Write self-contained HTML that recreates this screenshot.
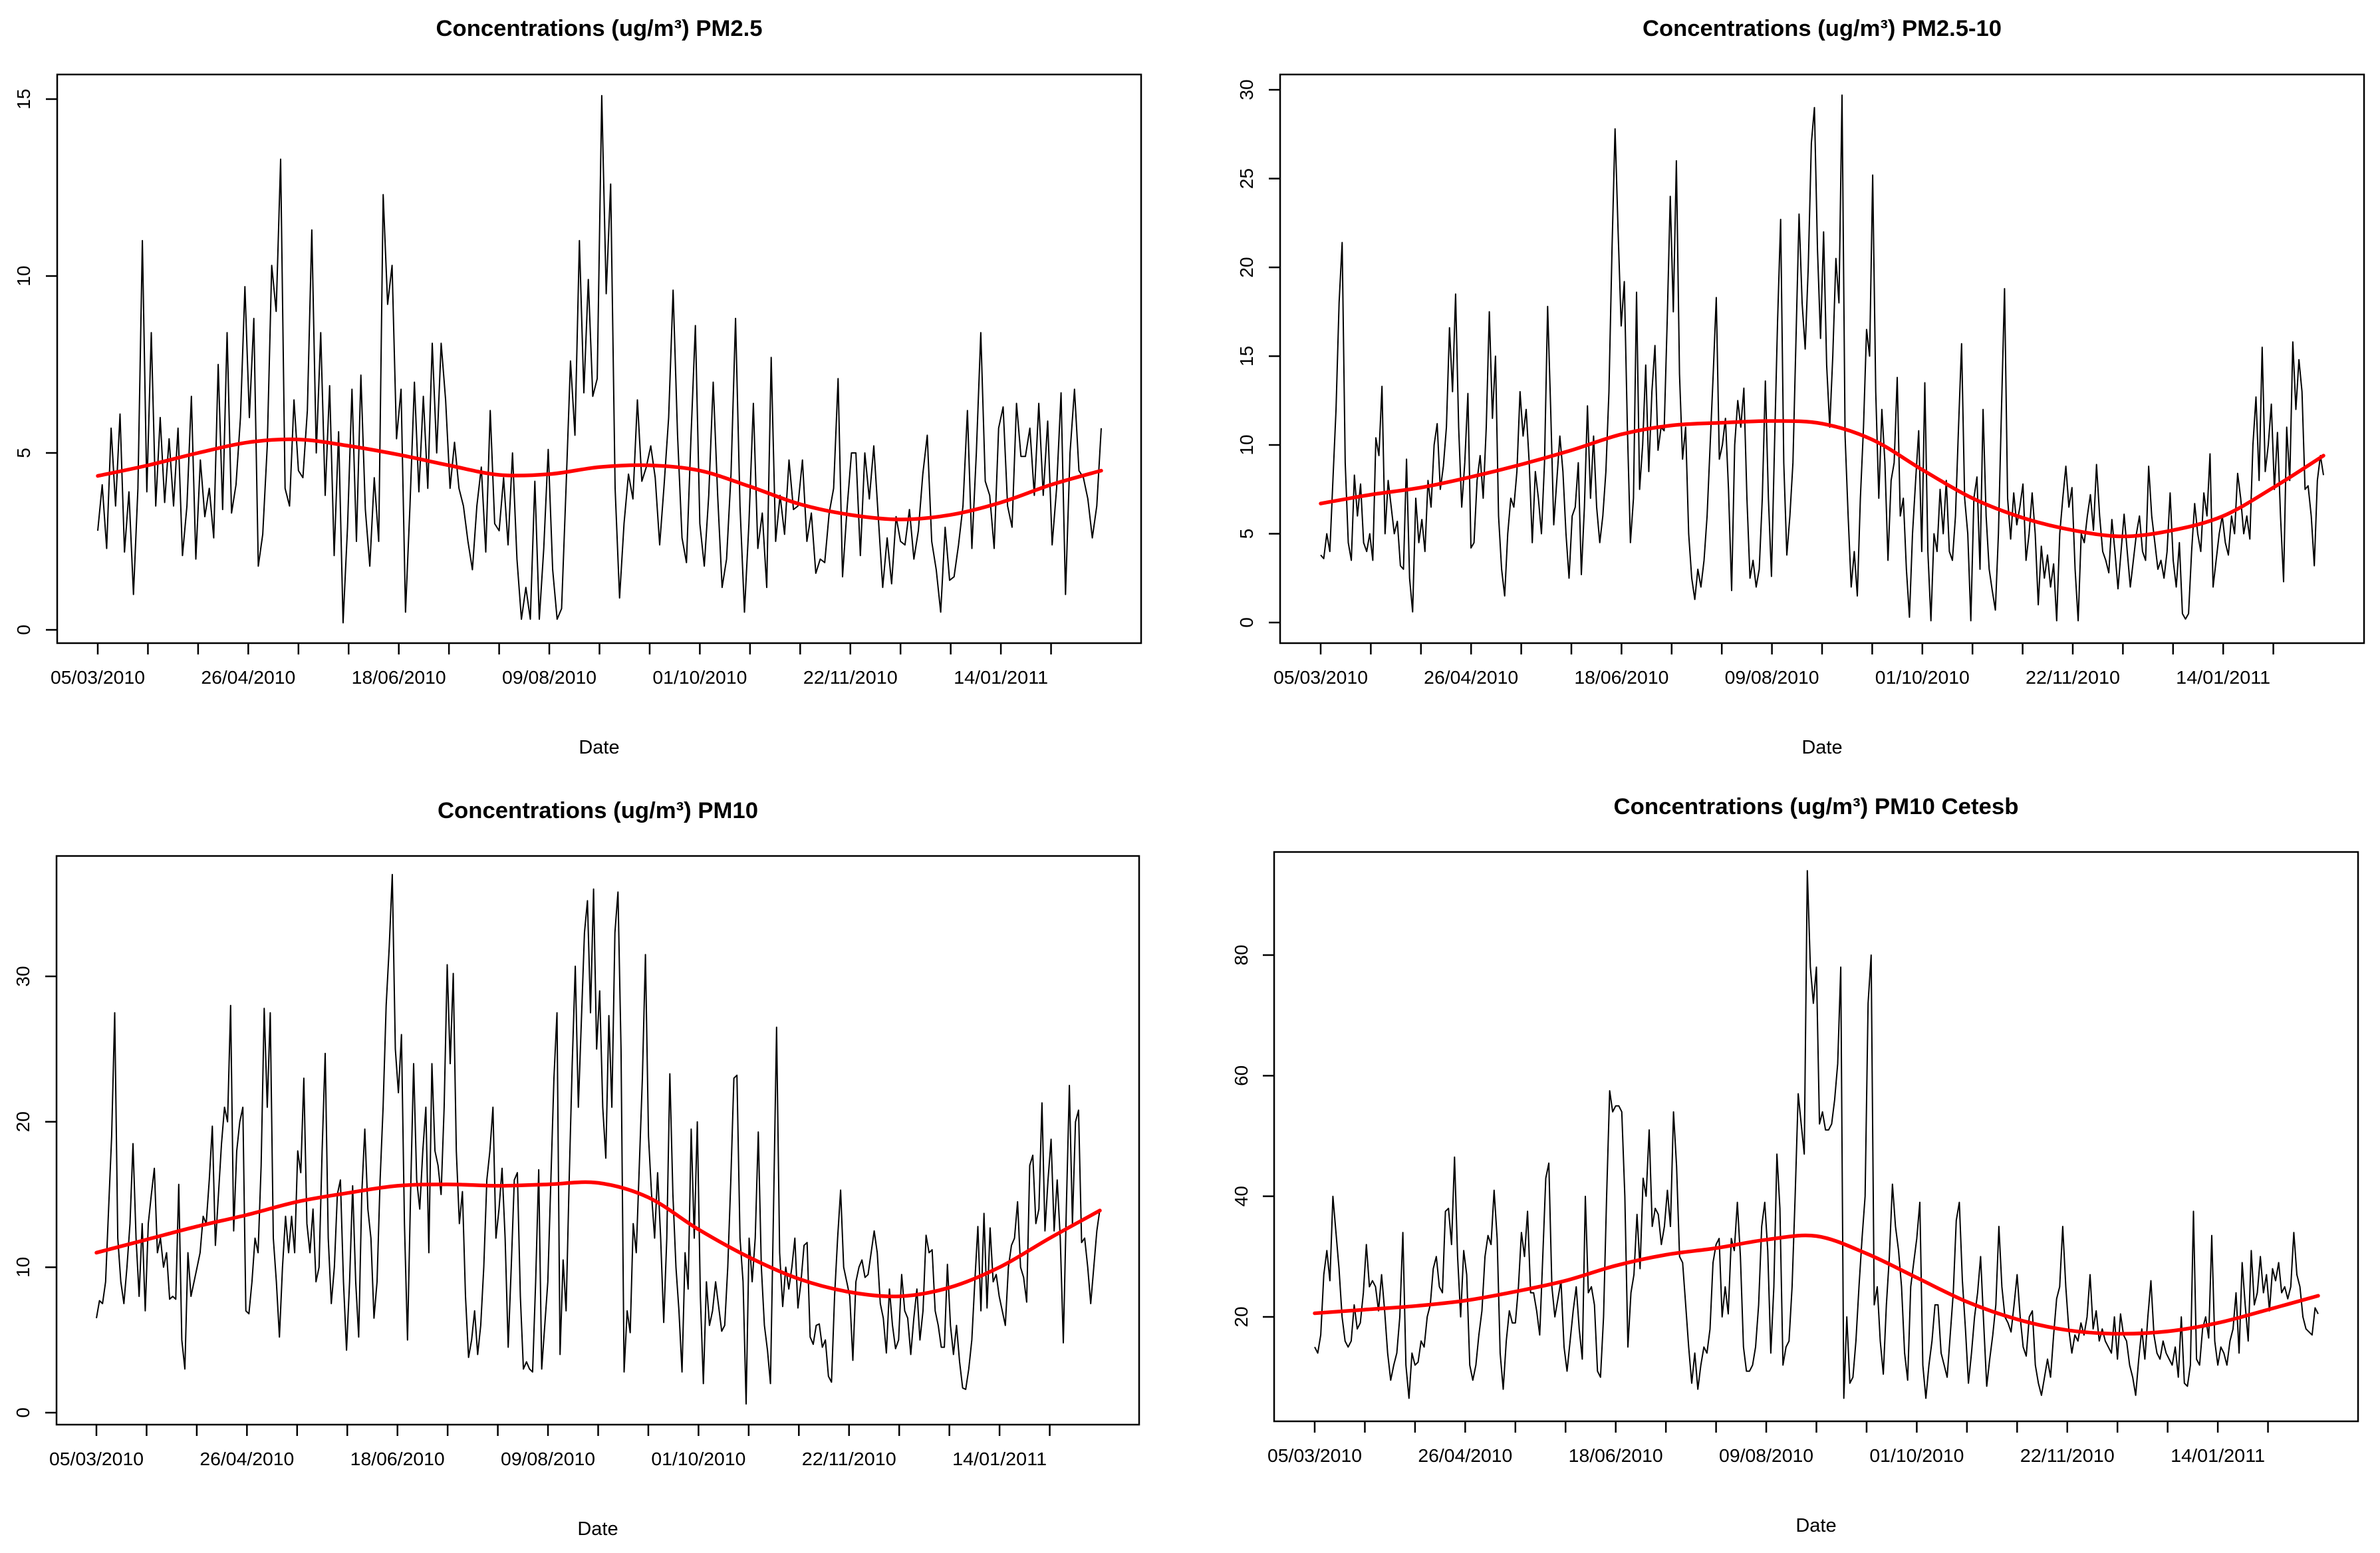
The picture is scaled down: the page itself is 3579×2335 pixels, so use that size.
<!DOCTYPE html>
<html><head><meta charset="utf-8">
<style>
html,body{margin:0;padding:0;background:#fff;}
svg{display:block;}
text{font-family:"Liberation Sans",Arial,sans-serif;fill:#000;}
</style></head>
<body>
<svg id="chart" width="3579" height="2335" viewBox="0 0 3579 2335" xmlns="http://www.w3.org/2000/svg">
<rect x="0" y="0" width="3579" height="2335" fill="#fff"/>
</svg>
<script>
// ---- shared x-axis data ----
const tickLabels = ["05/03/2010","26/04/2010","18/06/2010","09/08/2010","01/10/2010","22/11/2010","14/01/2011"];
const tickStepDays = 17.5;
const tickCount = 20;
const spanDays = 350;

// ---- PM2.5 ----
const pm25Values = [2.8,4.1,2.3,5.7,3.5,6.1,2.2,3.9,1.0,4,11,3.9,8.4,3.5,6,3.6,5.4,3.5,5.7,2.1,3.5,6.6,2,4.8,3.2,4,2.6,7.5,3.4,8.4,3.3,4.1,6,9.7,6,8.8,1.8,2.7,5.2,10.3,9,13.3,4,3.5,6.5,4.5,4.3,6.2,11.3,5,8.4,3.8,6.9,2.1,5.6,0.2,2.9,6.8,2.5,7.2,3.4,1.8,4.3,2.5,12.3,9.2,10.3,5.4,6.8,0.5,3.5,7,3.9,6.6,4,8.1,5,8.1,6.5,4,5.3,4,3.5,2.5,1.7,3.5,4.6,2.2,6.2,3,2.8,4.3,2.4,5,2,0.3,1.2,0.3,4.2,0.3,2.3,5.1,1.7,0.3,0.6,4,7.6,5.5,11,6.7,9.9,6.6,7.1,15.1,9.5,12.6,4,0.9,3,4.4,3.7,6.5,4.2,4.6,5.2,4.3,2.4,4.1,6,9.6,5.5,2.6,1.9,5.4,8.6,3,1.8,3.8,7,3.8,1.2,2,4.4,8.8,3.5,0.5,3,6.4,2.3,3.3,1.2,7.7,2.5,3.8,2.7,4.8,3.4,3.5,4.8,2.5,3.3,1.6,2,1.9,3.3,4,7.1,1.5,3.4,5,5,2.1,5,3.7,5.2,3.2,1.2,2.6,1.3,3.2,2.5,2.4,3.4,2,2.8,4.4,5.5,2.5,1.7,0.5,2.9,1.4,1.5,2.4,3.5,6.2,2.3,5,8.4,4.2,3.8,2.3,5.7,6.3,3.5,2.9,6.4,4.9,4.9,5.7,3.8,6.4,3.8,5.9,2.4,4,6.7,1,5,6.8,4.5,4.3,3.7,2.6,3.5,5.7];
const pm25Trend = [4.35,4.65,5.0,5.3,5.38,5.2,4.95,4.65,4.38,4.4,4.6,4.65,4.5,4.05,3.55,3.25,3.12,3.25,3.6,4.1,4.5];
const pm25Ticks = [0,5,10,15];

// ---- PM2.5-10 ----
const pmCoarseValues = [3.8,3.6,5,4,8,12,18,21.4,9,4.5,3.5,8.3,6,7.8,4.5,4,5,3.5,10.4,9.4,13.3,5,8,6.5,5,5.7,3.2,3,9.2,2.5,0.6,7,4.5,5.8,4,8,6.5,10,11.2,7.5,8.8,11,16.6,13,18.5,11,6.5,9,12.9,4.2,4.5,8,9.4,7,11,17.5,11.5,15,6,3,1.5,5,7,6.5,8.5,13,10.5,12,9,4.5,8.5,7,5,9,17.8,12,5.5,8,10.5,8.5,5,2.5,6,6.5,9,2.7,6.5,12.2,7,10.5,6.5,4.5,6,8.5,13,21,27.8,22,16.7,19.2,11,4.5,7,18.6,7.5,10,14.5,8.5,13,15.6,9.7,11,10.8,17,24,17.5,26,14,9.2,11,5,2.5,1.3,3,2,3.5,6,10,14,18.3,9.2,10,11.5,7.5,1.8,10,12.5,11,13.2,7,2.5,3.5,2,3,7,13.6,7,2.6,10,17,22.7,9,3.8,6,9,16,23,18,15.4,20,27,29,21,16,22,14.5,11,15,20.5,18,29.7,10.5,6,2,4,1.5,7,11,16.5,15,25.2,13,7,12,9,3.5,8,9,13.8,6,7,3,0.3,5,8,10.8,4,13.5,4,0.1,5,4,7.5,5,8,4,3.5,6,11,15.7,7,5,0.1,7,8.2,3,12,6,3,1.8,0.7,5,12,18.8,7,4.7,7.3,5.5,6.5,7.8,3.5,5,7.3,5,1,4.3,2.5,3.8,2,3.3,0.1,5,7,8.8,6.5,7.6,3,0.1,5,4.5,6,7.2,5.2,8.9,6,4,3.5,2.8,5.8,4,1.9,4,6.1,4,2,3.5,5,6,4,3.5,8.8,6,4.5,3,3.5,2.5,4,7.3,3.5,2,4.5,0.5,0.2,0.5,4,6.7,5,4,7.3,6,9.5,2,3.5,5,6,4.5,3.8,6,5,8.4,7,5,6,4.7,10,12.7,8,15.5,8.5,10,12.3,7.5,10.7,6,2.3,11,8,15.8,12,14.8,13,7.5,7.7,6,3.2,8,9.4,8.3];
const pmCoarseTrend = [6.7,7.2,7.6,8.2,8.9,9.7,10.6,11.1,11.25,11.35,11.2,10.3,8.6,7.0,5.9,5.2,4.85,5.2,6.0,7.6,9.4];
const pmCoarseTicks = [0,5,10,15,20,25,30];

// ---- PM10 ----
const pm10Values = [6.5,7.7,7.5,9,14,19,27.5,12,9,7.5,10,13,18.5,12,8,13,7,13,15,16.8,11,12,10,11,7.8,8,7.8,15.7,5,3,11,8,9,10,11,13.5,13,16,19.7,11.5,15,18.5,21,20,28,12.5,18,20,21,7,6.8,9,12,11,17,27.8,21,27.5,12,9,5.2,10,13.5,11,13.5,11,18,16.5,23,13,11,14,9,10,18,24.7,12,7.5,10,15,16,9,4.3,9,15.6,9,5.2,15,19.5,14,12,6.5,9,16,21,28,32,37,25,22,26,13,5,15,24,16,14,18,21,11,24,18,17,15,21,30.8,24,30.2,18,13,15.2,8,3.8,5,7,4,6,10,16,18,21,12,14,16.8,12,4.5,10,16,16.5,8,3,3.5,3,2.8,9,16.7,3,6,9,16,23,27.5,4,10.5,7,16,24,30.7,21,27,33,35.2,27.5,36,25,29,21,17.5,27.3,21,33,35.8,25,2.8,7,5.5,13,11,17,23,31.5,19,15,12,16.5,12,6.2,12,23.3,15,10,7,2.8,11,8.5,19.5,12,20,8,2,9,6,7,9,7.3,5.6,6,10,16,23,23.2,12,9,0.6,12,9,12,19.3,10,6,4.3,2,14,26.5,11,7.3,10,8.5,10,12,7.2,9,11.5,11.7,5.2,4.7,6,6.1,4.5,5,2.5,2.1,8,12,15.3,10,9,8,3.6,9,10,10.5,9.3,9.5,11,12.5,11,7.5,6.5,4.1,8.5,6,4.4,5,9.5,7,6.5,4,6.5,8.5,5,7,12.2,11,11.2,7,6,4.5,4.5,10.2,6,4,6,3.5,1.7,1.6,3,5,9,12.8,7,13.7,7.2,12.7,9,9.5,8,7,6,10,11.5,12,14.5,10,9.3,7.6,17,17.7,13,14,21.3,12.5,16,18.8,12.5,16,12,4.8,14,22.5,13,20,20.8,11.7,12,10,7.5,10,12.5,14];
const pm10Trend = [11.0,11.9,12.8,13.6,14.5,15.1,15.6,15.7,15.6,15.7,15.8,14.8,12.6,10.7,9.2,8.3,8.0,8.6,10.0,12.0,13.9];
const pm10Ticks = [0,10,20,30];

// ---- PM10 Cetesb ----
const cetesbValues = [15,14,17,27,31,26,40,34,28,20,16,15,16,22,18,19,24,32,25,26,25,21,27,21,14,9.5,12,14,20,34,12,6.5,14,12,12.5,16,15,20,22,28,30,25,24,37.5,38,32,46.5,30,20,31,27,12,9.5,12,17,21,30,33.5,32,41,33,14,8,16,21,19,19,25,34,30,37.5,24,24,21,17,30,43,45.5,25,20,23,26,15,11,16,21,25,18,13,40,24,25,22,11,10,20,40,57.5,54,55,55,54,40,15,24,27,37,28,43,40,51,35,38,37,32,35,41,35,54,45,30,29,22,15,9,14,8,12,15,14,18,29,32,33,20,25,20.5,33,31,39,30,15,11,11,12,15,22,35,39,31,14,25,47,38,12,15,16,25,40,57,52,47,94,78,72,78,52,54,51,51,52,56,62,78,6.5,20,9,10,16,25,33,40,72,80,22,25,16,10.5,22,30,42,35,31,25,14,9.5,25,29,33,39,12,6.5,12,16,22,22,14,12,10,17,24,36,39,26,18,9,14,20,24,30,19,8.5,13,17,22,35,25,20,19,17.5,22,27,20,15,13.5,20,21,12,9,7,10,13,10,17,23,25,35,25,18,14,17,16,19,17,20,27,18,21,16,18,16,15,14,20,13,20.5,17,16,12,10,7,13,18,13,20,26,17,14,13,16,14,13,12,15,10,20,9,8.5,12,37.5,13,12,18,20,16.5,33.5,16,12,15,14,12,16,18,24,14,29,22,16,31,22,24,30,24,27,21,28,26,29,24,25,23,25,34,27,25,20,18,17.5,17,21.5,20.5];
const cetesbTrend = [20.6,21.2,21.8,22.7,24.2,26.0,28.5,30.3,31.4,32.8,33.4,30.5,26.5,22.5,19.6,17.8,17.2,17.6,19.0,21.2,23.5];
const cetesbTicks = [20,40,60,80];

const NS = "http://www.w3.org/2000/svg";
const svg = document.getElementById("chart");
function mk(tag, attrs, parent){
  const e = document.createElementNS(NS, tag);
  for (const k in attrs) e.setAttribute(k, attrs[k]);
  (parent || svg).appendChild(e);
  return e;
}

const panels = [
  {key:"pm25", title:"Concentrations (ug/m\u00b3) PM2.5", titleW:491, values:pm25Values, trend:pm25Trend, ticks:pm25Ticks,
   box:[86,112,1716,967], x0:147, x1:1656, vA:0, yA:947, vB:15, yB:149, titleY:54, labY:1028, dateY:1133, ylabX:45},
  {key:"pm25-10", title:"Concentrations (ug/m\u00b3) PM2.5-10", titleW:540, values:pmCoarseValues, trend:pmCoarseTrend, ticks:pmCoarseTicks,
   box:[1925,112,3555,967], x0:1986, x1:3494, vA:0, yA:936, vB:30, yB:135, titleY:54, labY:1028, dateY:1133, ylabX:1884},
  {key:"pm10", title:"Concentrations (ug/m\u00b3) PM10", titleW:482, values:pm10Values, trend:pm10Trend, ticks:pm10Ticks,
   box:[85,1287,1713,2142], x0:145, x1:1654, vA:0, yA:2124, vB:30, yB:1468, titleY:1230, labY:2203, dateY:2308, ylabX:44},
  {key:"pm10-cetesb", title:"Concentrations (ug/m\u00b3) PM10 Cetesb", titleW:609, values:cetesbValues, trend:cetesbTrend, ticks:cetesbTicks,
   box:[1916,1281,3546,2137], x0:1977, x1:3486, vA:20, yA:1980, vB:80, yB:1436, titleY:1224, labY:2198, dateY:2303, ylabX:1876}
];

panels.forEach(p => {
  const g = mk("g", {});
  
  
  const xDay = d => p.x0 + d / spanDays * (p.x1 - p.x0);
  const yVal = v => p.yA + (v - p.vA) * (p.yB - p.yA) / (p.vB - p.vA);
  const [bx0, by0, bx1, by1] = p.box;
  const cx = (bx0 + bx1) / 2;

  const t = mk("text", {x:cx, y:p.titleY, "text-anchor":"middle", "font-size":34, "font-weight":"bold", textLength:p.titleW, lengthAdjust:"spacingAndGlyphs"}, g);
  t.textContent = p.title;
  
  

  const box = mk("rect", {x:bx0, y:by0, width:bx1-bx0, height:by1-by0, fill:"none", stroke:"#000", "stroke-width":2.5}, g);
  
  

  // x axis
  const xa = mk("g", {}, g);
  
  
  for (let k = 0; k < tickCount; k++) {
    const x = xDay(k * tickStepDays);
    const tk = mk("line", {x1:x, x2:x, y1:by1, y2:by1+17, stroke:"#000", "stroke-width":2.5}, xa);
    
    
    if (k % 3 === 0 && tickLabels[k/3]) {
      const lb = mk("text", {x:x, y:p.labY, "text-anchor":"middle", "font-size":28, textLength:142, lengthAdjust:"spacingAndGlyphs"}, xa);
      lb.textContent = tickLabels[k/3];
      
      
    }
  }
  const dl = mk("text", {x:cx, y:p.dateY, "text-anchor":"middle", "font-size":29}, g);
  dl.textContent = "Date";
  
  

  // y axis
  const ya = mk("g", {}, g);
  
  
  p.ticks.forEach(v => {
    const y = yVal(v);
    const tk = mk("line", {x1:bx0-17, x2:bx0, y1:y, y2:y, stroke:"#000", "stroke-width":2.5}, ya);
    
    
    const lb = mk("text", {x:p.ylabX, y:y, "text-anchor":"middle", "font-size":28, transform:`rotate(-90 ${p.ylabX} ${y})`}, ya);
    lb.textContent = String(v);
    
    
  });

  // series
  const n = p.values.length;
  const pts = p.values.map((v, i) => xDay(i * spanDays / (n - 1)).toFixed(1) + "," + yVal(v).toFixed(1)).join(" ");
  const line = mk("polyline", {points:pts, fill:"none", stroke:"#000", "stroke-width":2, "stroke-linejoin":"round"}, g);
  
  

  // smooth trend via Catmull-Rom
  const tp = p.trend.map((v, i) => [xDay(i * tickStepDays), yVal(v)]);
  let d = "M" + tp[0][0] + "," + tp[0][1];
  for (let i = 0; i < tp.length - 1; i++) {
    const p0 = tp[Math.max(0, i-1)], p1 = tp[i], p2 = tp[i+1], p3 = tp[Math.min(tp.length-1, i+2)];
    const c1 = [p1[0] + (p2[0]-p0[0])/6, p1[1] + (p2[1]-p0[1])/6];
    const c2 = [p2[0] - (p3[0]-p1[0])/6, p2[1] - (p3[1]-p1[1])/6];
    d += ` C${c1[0]},${c1[1]} ${c2[0]},${c2[1]} ${p2[0]},${p2[1]}`;
  }
  const tr = mk("path", {d:d, fill:"none", stroke:"#ff0000", "stroke-width":5.5, "stroke-linecap":"round"}, g);
  
  
});
</script>
</body></html>
